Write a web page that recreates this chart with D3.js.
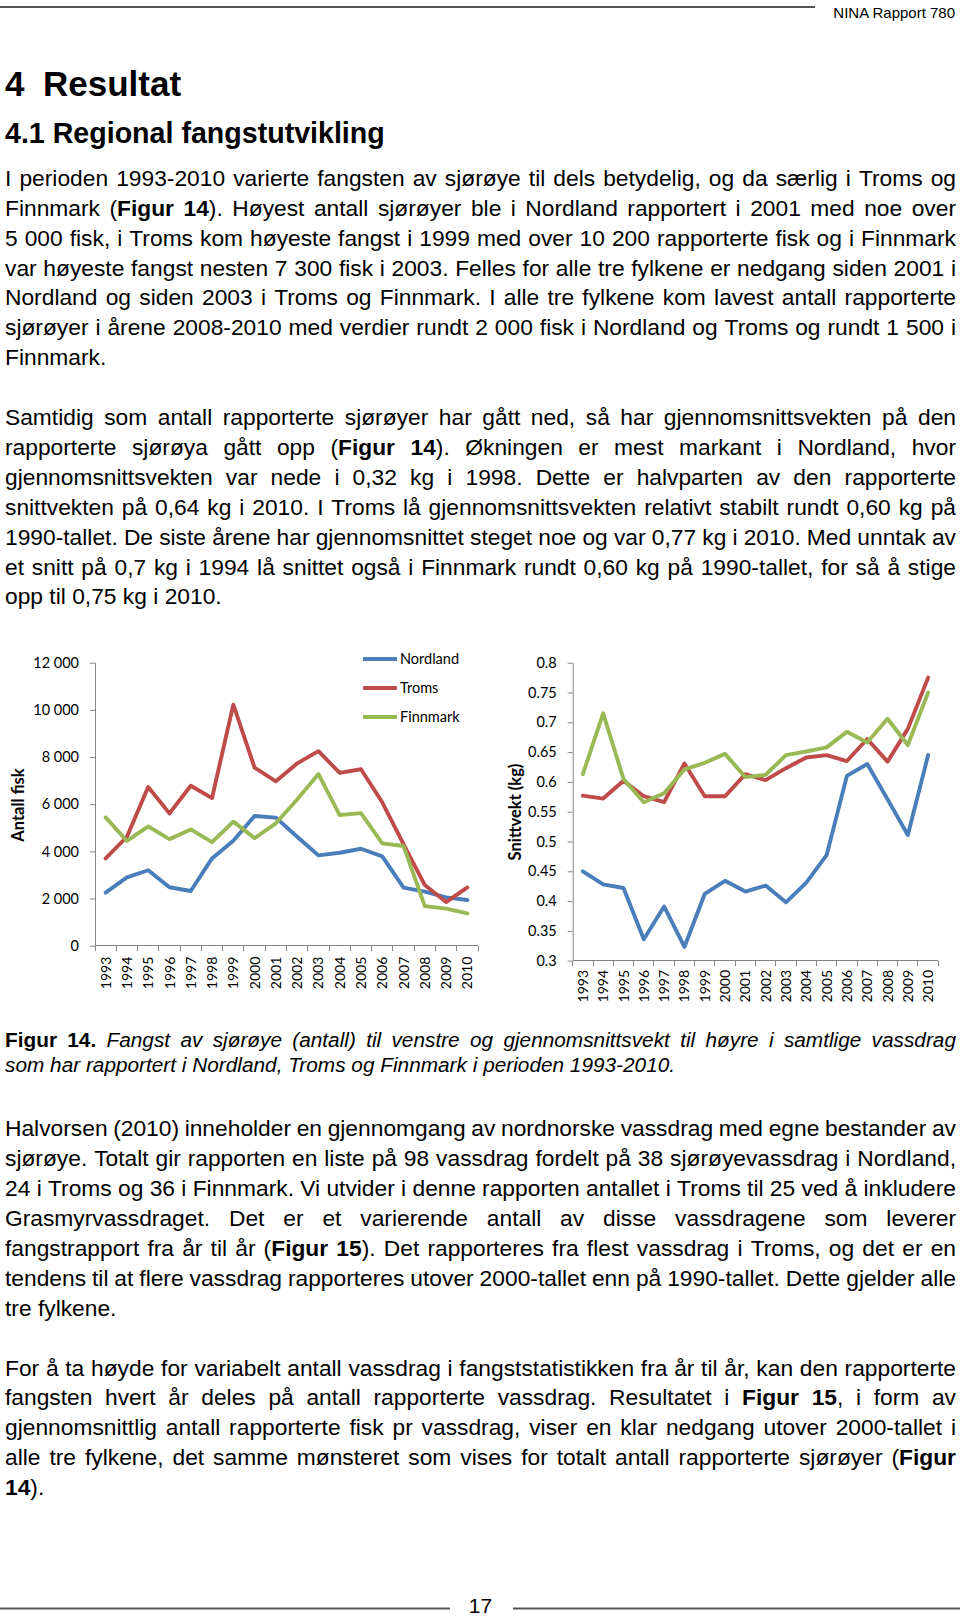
<!DOCTYPE html>
<html>
<head>
<meta charset="utf-8">
<script src="https://cdn.jsdelivr.net/npm/d3@7"></script>
<style>
body{margin:0;background:#fff}
svg{display:block}
</style>
</head>
<body>
<svg id="page" width="960" height="1618"></svg>
<script>
// ---------- DATA ----------
const years = ["1993","1994","1995","1996","1997","1998","1999","2000","2001","2002","2003","2004","2005","2006","2007","2008","2009","2010"];
const seriesNames = ["Nordland","Troms","Finnmark"];
const seriesColors = ["#4A7EBB","#BE4B48","#98B954"];

const countTicks = [0,2000,4000,6000,8000,10000,12000];
const countTickLabels = ["0","2 000","4 000","6 000","8 000","10 000","12 000"];
const countNordland = [2250,2900,3200,2480,2320,3700,4450,5500,5430,4620,3830,3940,4110,3790,2460,2290,2050,1940];
const countTroms    = [3700,4620,6730,5610,6780,6260,10220,7550,6970,7730,8250,7330,7480,6080,4310,2570,1850,2470];
const countFinnmark = [5440,4440,5060,4520,4930,4390,5260,4560,5190,6200,7280,5540,5620,4340,4230,1680,1570,1370];

const weightTicks = [0.3,0.35,0.4,0.45,0.5,0.55,0.6,0.65,0.7,0.75,0.8];
const weightTickLabels = ["0.3","0.35","0.4","0.45","0.5","0.55","0.6","0.65","0.7","0.75","0.8"];
const weightNordland = [0.450,0.428,0.422,0.336,0.391,0.323,0.412,0.434,0.416,0.426,0.398,0.431,0.477,0.610,0.630,0.571,0.511,0.645];
const weightTroms    = [0.577,0.572,0.602,0.576,0.566,0.631,0.576,0.576,0.613,0.603,0.623,0.641,0.645,0.635,0.672,0.634,0.689,0.775];
const weightFinnmark = [0.613,0.715,0.605,0.566,0.581,0.621,0.632,0.647,0.608,0.612,0.645,0.651,0.658,0.684,0.666,0.706,0.662,0.750];

// ---------- TEXT ----------
const para1 = [
 "I perioden 1993-2010 varierte fangsten av sjørøye til dels betydelig, og da særlig i Troms og",
 "Finnmark (*Figur 14*). Høyest antall sjørøyer ble i Nordland rapportert i 2001 med noe over",
 "5 000 fisk, i Troms kom høyeste fangst i 1999 med over 10 200 rapporterte fisk og i Finnmark",
 "var høyeste fangst nesten 7 300 fisk i 2003. Felles for alle tre fylkene er nedgang siden 2001 i",
 "Nordland og siden 2003 i Troms og Finnmark. I alle tre fylkene kom lavest antall rapporterte",
 "sjørøyer i årene 2008-2010 med verdier rundt 2 000 fisk i Nordland og Troms og rundt 1 500 i",
 "Finnmark."
];
const para2 = [
 "Samtidig som antall rapporterte sjørøyer har gått ned, så har gjennomsnittsvekten på den",
 "rapporterte sjørøya gått opp (*Figur 14*). Økningen er mest markant i Nordland, hvor",
 "gjennomsnittsvekten var nede i 0,32 kg i 1998. Dette er halvparten av den rapporterte",
 "snittvekten på 0,64 kg i 2010. I Troms lå gjennomsnittsvekten relativt stabilt rundt 0,60 kg på",
 "1990-tallet. De siste årene har gjennomsnittet steget noe og var 0,77 kg i 2010. Med unntak av",
 "et snitt på 0,7 kg i 1994 lå snittet også i Finnmark rundt 0,60 kg på 1990-tallet, for så å stige",
 "opp til 0,75 kg i 2010."
];
const caption = [
 "*Figur 14.* _Fangst av sjørøye (antall) til venstre og gjennomsnittsvekt til høyre i samtlige vassdrag_",
 "_som har rapportert i Nordland, Troms og Finnmark i perioden 1993-2010._"
];
const para3 = [
 "Halvorsen (2010) inneholder en gjennomgang av nordnorske vassdrag med egne bestander av",
 "sjørøye. Totalt gir rapporten en liste på 98 vassdrag fordelt på 38 sjørøyevassdrag i Nordland,",
 "24 i Troms og 36 i Finnmark. Vi utvider i denne rapporten antallet i Troms til 25 ved å inkludere",
 "Grasmyrvassdraget. Det er et varierende antall av disse vassdragene som leverer",
 "fangstrapport fra år til år (*Figur 15*). Det rapporteres fra flest vassdrag i Troms, og det er en",
 "tendens til at flere vassdrag rapporteres utover 2000-tallet enn på 1990-tallet. Dette gjelder alle",
 "tre fylkene."
];
const para4 = [
 "For å ta høyde for variabelt antall vassdrag i fangststatistikken fra år til år, kan den rapporterte",
 "fangsten hvert år deles på antall rapporterte vassdrag. Resultatet i *Figur 15*, i form av",
 "gjennomsnittlig antall rapporterte fisk pr vassdrag, viser en klar nedgang utover 2000-tallet i",
 "alle tre fylkene, det samme mønsteret som vises for totalt antall rapporterte sjørøyer (*Figur*",
 "*14*)."
];

// ---------- PAGE ----------
const BODY = "'Liberation Sans', Arial, Helvetica, sans-serif";
const CH = "Lato, 'Open Sans', sans-serif";
const LEFT = 5, RIGHT = 956;
const svg = d3.select("#page");
svg.append("rect").attr("width",960).attr("height",1618).attr("fill","#fff");

// header
svg.append("line").attr("x1",0).attr("x2",815).attr("y1",7).attr("y2",7)
  .attr("stroke","#555").attr("stroke-width",2);
svg.append("g").attr("transform","translate(955,17.5) scale(1,0.98)")
  .append("text").attr("text-anchor","end").attr("font-family",BODY).attr("font-size",15).attr("fill","#000")
  .text("NINA Rapport 780");

// headings
const h1 = svg.append("g").attr("transform","translate(0,95.5) scale(1,1)");
h1.append("text").attr("x",5).attr("font-family",BODY).attr("font-weight","bold").attr("font-size",35).text("4");
h1.append("text").attr("x",43).attr("font-family",BODY).attr("font-weight","bold").attr("font-size",35).text("Resultat");
svg.append("g").attr("transform","translate(0,143) scale(1,1)")
  .append("text").attr("x",5).attr("font-family",BODY).attr("font-weight","bold").attr("font-size",28.6)
  .text("4.1 Regional fangstutvikling");

function parseLine(str){
  return str.split(/(\*[^*]+\*|_[^_]+_)/).filter(s=>s.length).map(p =>
    p.startsWith("*") ? {t:p.slice(1,-1), b:true} :
    p.startsWith("_") ? {t:p.slice(1,-1), i:true} : {t:p});
}
function drawLine(str, y, fs, sy, justify){
  let words = [[]];
  parseLine(str).forEach(p => {
    p.t.split(" ").forEach((f,k) => {
      if (k>0) words.push([]);
      if (f) words[words.length-1].push({t:f, b:p.b, i:p.i});
    });
  });
  words = words.filter(w => w.length);
  const g = svg.append("g").attr("transform", `translate(0,${y}) scale(1,${sy})`);
  const nodes = words.map(w => {
    const t = g.append("text").attr("font-family",BODY).attr("font-size",fs).attr("fill","#000");
    w.forEach(p => t.append("tspan")
      .attr("font-weight", p.b ? "bold" : null)
      .attr("font-style", p.i ? "italic" : null)
      .text(p.t));
    return t;
  });
  const widths = nodes.map(n => n.node().getComputedTextLength());
  const total = d3.sum(widths);
  const gap = (justify && words.length>1) ? (RIGHT-LEFT-total)/(words.length-1) : fs*0.278;
  let x = LEFT;
  nodes.forEach((n,k) => { n.attr("x", x); x += widths[k] + gap; });
}
function drawPara(lines, y0, fs, sy, lh){
  lines.forEach((l,i) => drawLine(l, y0 + i*lh, fs, sy, i < lines.length-1));
}
const LH = 29.9;
const SY = 0.93;
drawPara(para1, 185.8, 22.8, SY, LH);
drawPara(para2, 185.8 + 8*LH, 22.8, SY, LH);
drawPara(caption, 1047.2, 20.8, SY, 24.7);
drawPara(para3, 1136.3, 22.8, SY, LH);
drawPara(para4, 1136.3 + 8*LH, 22.8, SY, LH);

// footer
svg.append("line").attr("x1",0).attr("x2",450).attr("y1",1608.5).attr("y2",1608.5).attr("stroke","#555").attr("stroke-width",2);
svg.append("line").attr("x1",513).attr("x2",960).attr("y1",1608.5).attr("y2",1608.5).attr("stroke","#555").attr("stroke-width",2);
svg.append("text").attr("x",480.5).attr("y",1613).attr("text-anchor","middle")
  .attr("font-family",BODY).attr("font-size",21).attr("fill","#000").text("17");

// ---------- CHARTS ----------
function chart(cfg){
  const x = d3.scaleBand().domain(years).range([cfg.x0, cfg.x1]);
  const y = d3.scaleLinear().domain(cfg.domain).range([cfg.yBot, cfg.yTop]);
  const g = svg.append("g");
  const ya = d3.axisLeft(y).tickValues(cfg.ticks)
    .tickFormat(d => cfg.tickLabels[cfg.ticks.indexOf(d)])
    .tickSize(5).tickSizeOuter(0).tickPadding(cfg.pad);
  const yg = g.append("g").attr("transform", `translate(${cfg.x0},0)`).call(ya);
  yg.select(".domain").attr("stroke","#868686");
  yg.selectAll(".tick line").attr("stroke","#868686");
  yg.selectAll(".tick text").attr("font-family",CH).attr("font-size",14.5).attr("fill","#000");
  // x axis
  g.append("line").attr("x1",cfg.x0).attr("x2",cfg.x1).attr("y1",cfg.yBot).attr("y2",cfg.yBot)
    .attr("stroke","#868686").attr("shape-rendering","crispEdges");
  const bounds = years.map(d => x(d)).concat([cfg.x1]);
  g.selectAll(".xt").data(bounds).join("line")
    .attr("x1",d=>d).attr("x2",d=>d).attr("y1",cfg.yBot).attr("y2",cfg.yBot+5)
    .attr("stroke","#868686").attr("shape-rendering","crispEdges");
  g.selectAll(".yl").data(years).join("text")
    .attr("transform", d => `translate(${x(d)+x.bandwidth()/2},${cfg.yearTop}) rotate(-90)`)
    .attr("text-anchor","end").attr("dy","0.36em")
    .attr("font-family",CH).attr("font-size",14).attr("fill","#000").text(d=>d);
  // title
  g.append("text").attr("transform", `translate(${cfg.titleX},${cfg.titleY}) rotate(-90)`)
    .attr("text-anchor","middle").attr("dy","0.36em")
    .attr("font-family",CH).attr("font-weight","bold").attr("font-size",16.5).attr("fill","#000")
    .text(cfg.title);
  // lines
  const line = d3.line().x((d,i) => x(years[i]) + x.bandwidth()/2).y(d => y(d));
  cfg.series.forEach((s,k) => {
    g.append("path").datum(s).attr("d", line).attr("fill","none")
      .attr("stroke", seriesColors[k]).attr("stroke-width",3.9)
      .attr("stroke-linejoin","round").attr("stroke-linecap","round");
  });
}

chart({x0:95, x1:478, yTop:662.7, yBot:945.7, domain:[0,12000], ticks:countTicks, tickLabels:countTickLabels,
  pad:11, yearTop:956.7, title:"Antall fisk", titleX:18.5, titleY:805,
  series:[countNordland, countTroms, countFinnmark]});
chart({x0:572.7, x1:938.3, yTop:662.7, yBot:960.7, domain:[0.3,0.8], ticks:weightTicks, tickLabels:weightTickLabels,
  pad:11, yearTop:970, title:"Snittvekt (kg)", titleX:515, titleY:812,
  series:[weightNordland, weightTroms, weightFinnmark]});

// legend
const lg = svg.append("g");
const legY = d3.scalePoint().domain(seriesNames).range([659, 717]);
seriesNames.forEach((n,k) => {
  lg.append("line").attr("x1",363).attr("x2",397).attr("y1",legY(n)).attr("y2",legY(n))
    .attr("stroke",seriesColors[k]).attr("stroke-width",3.9);
  lg.append("text").attr("x",400).attr("y",legY(n)).attr("dy","0.36em")
    .attr("font-family",CH).attr("font-size",14.5).attr("fill","#000").text(n);
});
</script>
</body>
</html>
